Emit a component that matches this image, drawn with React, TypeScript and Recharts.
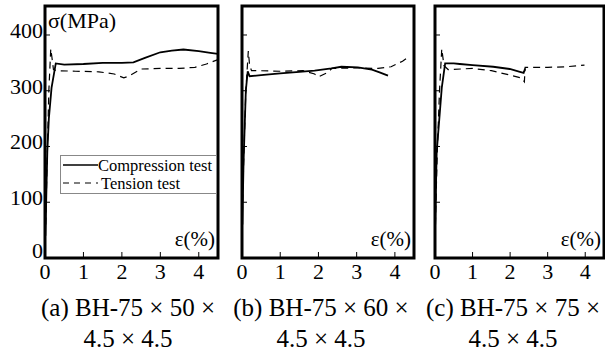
import React from 'react';
import { LineChart, Line, XAxis, YAxis, ReferenceArea } from 'recharts';

// ---- data (strain ε in %, stress σ in MPa) ----
const xTicks = [0, 1, 2, 3, 4];
const yTicks = [0, 100, 200, 300, 400];

const aCompStrain = [0.01, 0.03, 0.06, 0.1, 0.17, 0.28, 0.5, 1.0, 1.5, 2.0, 2.3, 2.6, 3.0, 3.3, 3.6, 4.0, 4.3, 4.5];
const aCompStress = [40, 100, 190, 250, 305, 349, 347, 348, 350, 350, 351, 359, 369, 372, 374, 371, 368, 366];
const aTensStrain = [0.02, 0.05, 0.1, 0.15, 0.18, 0.22, 0.3, 0.8, 1.4, 1.8, 2.05, 2.2, 2.5, 3.0, 3.5, 3.9, 4.2, 4.5];
const aTensStress = [60, 160, 300, 375, 360, 338, 336, 335, 334, 330, 323, 327, 339, 340, 340, 342, 348, 356];

const bCompStrain = [0.01, 0.02, 0.04, 0.1, 0.15, 0.2, 0.5, 1.0, 1.5, 1.9, 2.34, 2.6, 3.03, 3.4, 3.6, 3.82];
const bCompStress = [60, 100, 170, 300, 335, 326, 328, 331, 334, 336, 340, 343, 342, 338, 333, 327];
const bTensStrain = [0.01, 0.05, 0.1, 0.165, 0.2, 0.25, 0.4, 1.0, 1.6, 1.9, 2.0, 2.25, 2.35, 3.0, 3.56, 3.9, 4.2, 4.3];
const bTensStress = [80, 190, 300, 371, 345, 336, 336, 335, 336, 330, 325, 333, 340, 341, 340, 343, 353, 358];

const cCompStrain = [0.005, 0.045, 0.18, 0.27, 0.5, 0.66, 1.0, 1.55, 1.99, 2.26, 2.36, 2.4];
const cCompStress = [60, 190, 305, 349, 349, 348, 346, 343, 339, 334, 332, 340];
const cTensStrain = [0.01, 0.06, 0.12, 0.18, 0.24, 0.35, 1.0, 1.5, 2.0, 2.3, 2.38, 2.4, 2.5, 3.0, 3.5, 3.98];
const cTensStress = [60, 190, 300, 375, 345, 338, 340, 336, 328, 323, 316, 342, 342, 342, 343, 346];

const captionsLine1 = ['(a) BH-75 \u00d7 50 \u00d7', '(b) BH-75 \u00d7 60 \u00d7', '(c) BH-75 \u00d7 75 \u00d7'];
const captionsLine2 = ['4.5 \u00d7 4.5', '4.5 \u00d7 4.5', '4.5 \u00d7 4.5'];

const zip = (xs: number[], ys: number[]) => xs.map((x, i) => ({ x, y: ys[i] }));

const FONT = "'Times New Roman', Times, 'Liberation Serif', Tinos, 'Noto Serif', 'DejaVu Serif', serif";
const TXT = { fontFamily: FONT };
const X_MAX = 4.5;
const Y_MAX = 452;

type PanelProps = {
  left: number;
  width: number;
  yAxisWidth: number;
  rightMargin: number;
  showYLabels: boolean;
  comp: { x: number; y: number }[];
  tens: { x: number; y: number }[];
};

const XTick = (props: any) => {
  const { x, y, payload } = props;
  return (
    <g>
      {payload.value !== 0 && <line x1={x} x2={x} y1={y} y2={y - 6} stroke="#000" strokeWidth={1} />}
      <text x={x} y={y + 21} textAnchor="middle" style={TXT} fontSize={22} fill="#000">
        {payload.value}
      </text>
    </g>
  );
};

const makeYTick = (showLabel: boolean) => (props: any) => {
  const { x, y, payload } = props;
  return (
    <g>
      {payload.value !== 0 && <line x1={x} x2={x + 5} y1={y} y2={y} stroke="#000" strokeWidth={1} />}
      {showLabel && (
        <text x={x - 2} y={payload.value === 0 ? y : y + 3} textAnchor="end" style={TXT} fontSize={22} fill="#000">
          {payload.value}
        </text>
      )}
    </g>
  );
};

const Panel = ({ left, width, yAxisWidth, rightMargin, showYLabels, comp, tens }: PanelProps) => (
  <div style={{ position: 'absolute', left, top: 0 }}>
    <LineChart width={width} height={290} margin={{ top: 6, right: rightMargin, bottom: 2, left: 0 }}>
      <XAxis
        type="number"
        dataKey="x"
        domain={[0, X_MAX]}
        ticks={xTicks}
        allowDataOverflow
        height={30}
        tickSize={0}
        tickMargin={0}
        tickLine={false}
        axisLine={false}
        tick={<XTick />}
        interval={0}
      />
      <YAxis
        type="number"
        dataKey="y"
        domain={[0, Y_MAX]}
        ticks={yTicks}
        allowDataOverflow
        width={yAxisWidth}
        tickSize={0}
        tickMargin={0}
        tickLine={false}
        axisLine={false}
        tick={makeYTick(showYLabels)}
        interval={0}
      />
      <Line
        data={tens}
        dataKey="y"
        type="linear"
        stroke="#000"
        strokeWidth={1.2}
        strokeDasharray="7 5"
        dot={false}
        isAnimationActive={false}
      />
      <Line
        data={comp}
        dataKey="y"
        type="linear"
        stroke="#000"
        strokeWidth={1.8}
        dot={false}
        isAnimationActive={false}
      />
      <ReferenceArea x1={0} x2={X_MAX} y1={0} y2={Y_MAX} fill="none" stroke="#000" strokeWidth={3} ifOverflow="visible" />
    </LineChart>
  </div>
);

export default function App() {
  const panels = [
    { left: 0, width: 222, yAxisWidth: 45, rightMargin: 4, showYLabels: true, comp: zip(aCompStrain, aCompStress), tens: zip(aTensStrain, aTensStress) },
    { left: 225, width: 193, yAxisWidth: 17, rightMargin: 4, showYLabels: false, comp: zip(bCompStrain, bCompStress), tens: zip(bTensStrain, bTensStress) },
    { left: 418, width: 187, yAxisWidth: 17, rightMargin: 1, showYLabels: false, comp: zip(cCompStrain, cCompStress), tens: zip(cTensStrain, cTensStress) },
  ];
  const plotRights = [218, 414, 604];
  const captionCenters = [128, 321, 513];
  return (
    <div style={{ position: 'absolute', left: 0, top: 0, width: 605, height: 352, background: '#fff', overflow: 'hidden', fontFamily: FONT }}>
      {panels.map((p, i) => (
        <Panel key={i} {...p} />
      ))}
      <svg width={605} height={352} style={{ position: 'absolute', left: 0, top: 0, pointerEvents: 'none' }}>
        <text x={48} y={28} style={TXT} fontSize={22} fill="#000">σ(MPa)</text>
        {plotRights.map((r, i) => (
          <text key={'e' + i} x={r - 3} y={246} textAnchor="end" style={TXT} fontSize={21} fill="#000">ε(%)</text>
        ))}
        {captionCenters.map((c, i) => (
          <g key={'c' + i}>
            <text x={c} y={316} textAnchor="middle" style={TXT} fontSize={25} fill="#000">{captionsLine1[i]}</text>
            <text x={c} y={347} textAnchor="middle" style={TXT} fontSize={25} fill="#000">{captionsLine2[i]}</text>
          </g>
        ))}
        {/* legend */}
        <rect x={60.5} y={155.5} width={156} height={38} fill="#fff" stroke="#888" strokeWidth={1} />
        <line x1={63} x2={98} y1={165} y2={165} stroke="#000" strokeWidth={1.3} />
        <text x={98} y={171} style={TXT} fontSize={16.5} fill="#000">Compression test</text>
        <line x1={63} x2={98} y1={183} y2={183} stroke="#000" strokeWidth={1.2} strokeDasharray="6 5" />
        <text x={101} y={189} style={TXT} fontSize={16.5} fill="#000">Tension test</text>
      </svg>
    </div>
  );
}
